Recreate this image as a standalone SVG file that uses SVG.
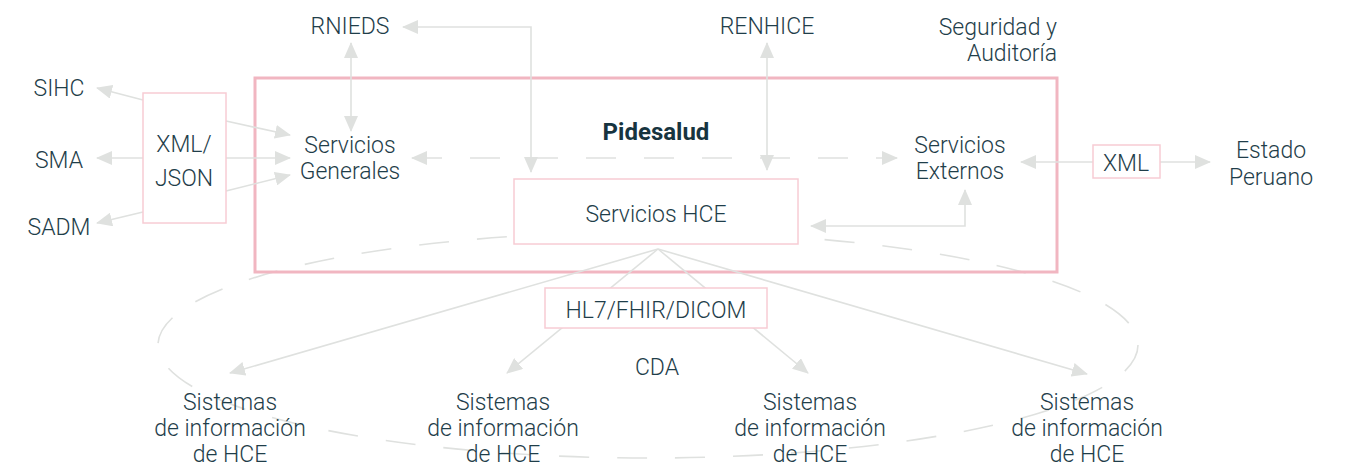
<svg xmlns="http://www.w3.org/2000/svg" width="1348" height="465" viewBox="0 0 1348 465">
<style>
text{font-family:Roboto,"Liberation Sans",sans-serif;font-size:23px;font-weight:300;fill:#1f3e4a;text-anchor:middle}
.b{font-weight:bold;font-size:24px;fill:#17343f}
.c{fill:none;stroke:#dfe1df;stroke-width:1.6}
.d{stroke-dasharray:30 28}
.box{fill:#fff;stroke:#f7ccd4;stroke-width:1.5}
.big{fill:none;stroke:#f1b6c1;stroke-width:3}
</style>
<defs>
<marker id="a" markerUnits="userSpaceOnUse" markerWidth="16" markerHeight="14" viewBox="0 0 16 14" refX="15" refY="7" orient="auto-start-reverse">
<path d="M0,0 L16,7 L0,14 Z" fill="#dfe1df"/>
</marker>
</defs>
<ellipse class="c d" cx="648" cy="345" rx="490" ry="113"/>
<rect id="pidesalud-frame" class="big" x="255" y="78" width="802" height="194"/>
<g id="connectors">
<line class="c" x1="143" y1="100" x2="97" y2="88" marker-end="url(#a)"/>
<line class="c" x1="143" y1="158" x2="97" y2="158" marker-end="url(#a)"/>
<line class="c" x1="143" y1="212" x2="97" y2="223" marker-end="url(#a)"/>
<line class="c" x1="226" y1="121" x2="290" y2="135" marker-end="url(#a)"/>
<line class="c" x1="226" y1="158" x2="290" y2="158" marker-end="url(#a)"/>
<line class="c" x1="226" y1="191" x2="290" y2="175" marker-end="url(#a)"/>
<line class="c" x1="351" y1="43" x2="351" y2="131" marker-start="url(#a)" marker-end="url(#a)"/>
<polyline class="c" points="403,27 531,27 531,172" marker-start="url(#a)" marker-end="url(#a)"/>
<line class="c" x1="767" y1="43" x2="767" y2="170" marker-start="url(#a)" marker-end="url(#a)"/>
<line class="c d" x1="412" y1="158" x2="897" y2="158" marker-start="url(#a)" marker-end="url(#a)"/>
<polyline class="c" points="811,226 965,226 965,190" marker-start="url(#a)" marker-end="url(#a)"/>
<line class="c" x1="1093" y1="162" x2="1021" y2="162" marker-end="url(#a)"/>
<line class="c" x1="1160" y1="162" x2="1210" y2="162" marker-end="url(#a)"/>
<line class="c" x1="658" y1="249" x2="230" y2="373" marker-end="url(#a)"/>
<line class="c" x1="658" y1="249" x2="507" y2="373" marker-end="url(#a)"/>
<line class="c" x1="658" y1="249" x2="808" y2="373" marker-end="url(#a)"/>
<line class="c" x1="658" y1="249" x2="1087" y2="374" marker-end="url(#a)"/>
</g>
<g id="sihc"><text x="59" y="96">SIHC</text></g>
<g id="sma"><text x="59" y="168">SMA</text></g>
<g id="sadm"><text x="59" y="235">SADM</text></g>
<g id="xml-json"><rect class="box" x="143" y="93" width="83" height="130"/><text x="184" y="152">XML/</text><text x="184" y="186">JSON</text></g>
<g id="servicios-generales"><text x="350" y="153">Servicios</text><text x="350" y="179">Generales</text></g>
<g id="rnieds"><text x="350" y="34">RNIEDS</text></g>
<g id="renhice"><text x="767" y="34">RENHICE</text></g>
<g id="seguridad"><text x="1057" y="35" style="text-anchor:end">Seguridad y</text><text x="1057" y="61" style="text-anchor:end">Auditoría</text></g>
<g id="pidesalud"><text class="b" x="656" y="140">Pidesalud</text></g>
<g id="servicios-externos"><text x="960" y="153">Servicios</text><text x="960" y="179">Externos</text></g>
<g id="xml"><rect class="box" x="1093" y="145" width="67" height="33"/><text x="1126" y="171">XML</text></g>
<g id="estado-peruano"><text x="1271" y="158">Estado</text><text x="1271" y="185">Peruano</text></g>
<g id="servicios-hce"><rect class="box" x="514" y="179" width="284" height="65"/><text x="656" y="222">Servicios HCE</text></g>
<g id="hl7"><rect class="box" x="545" y="288" width="222" height="40"/><text x="656" y="318">HL7/FHIR/DICOM</text></g>
<g id="cda"><text x="657" y="375">CDA</text></g>
<g id="sis1"><text x="230" y="410">Sistemas</text><text x="230" y="436">de información</text><text x="230" y="462">de HCE</text></g>
<g id="sis2"><text x="503" y="410">Sistemas</text><text x="503" y="436">de información</text><text x="503" y="462">de HCE</text></g>
<g id="sis3"><text x="810" y="410">Sistemas</text><text x="810" y="436">de información</text><text x="810" y="462">de HCE</text></g>
<g id="sis4"><text x="1087" y="410">Sistemas</text><text x="1087" y="436">de información</text><text x="1087" y="462">de HCE</text></g>
</svg>
